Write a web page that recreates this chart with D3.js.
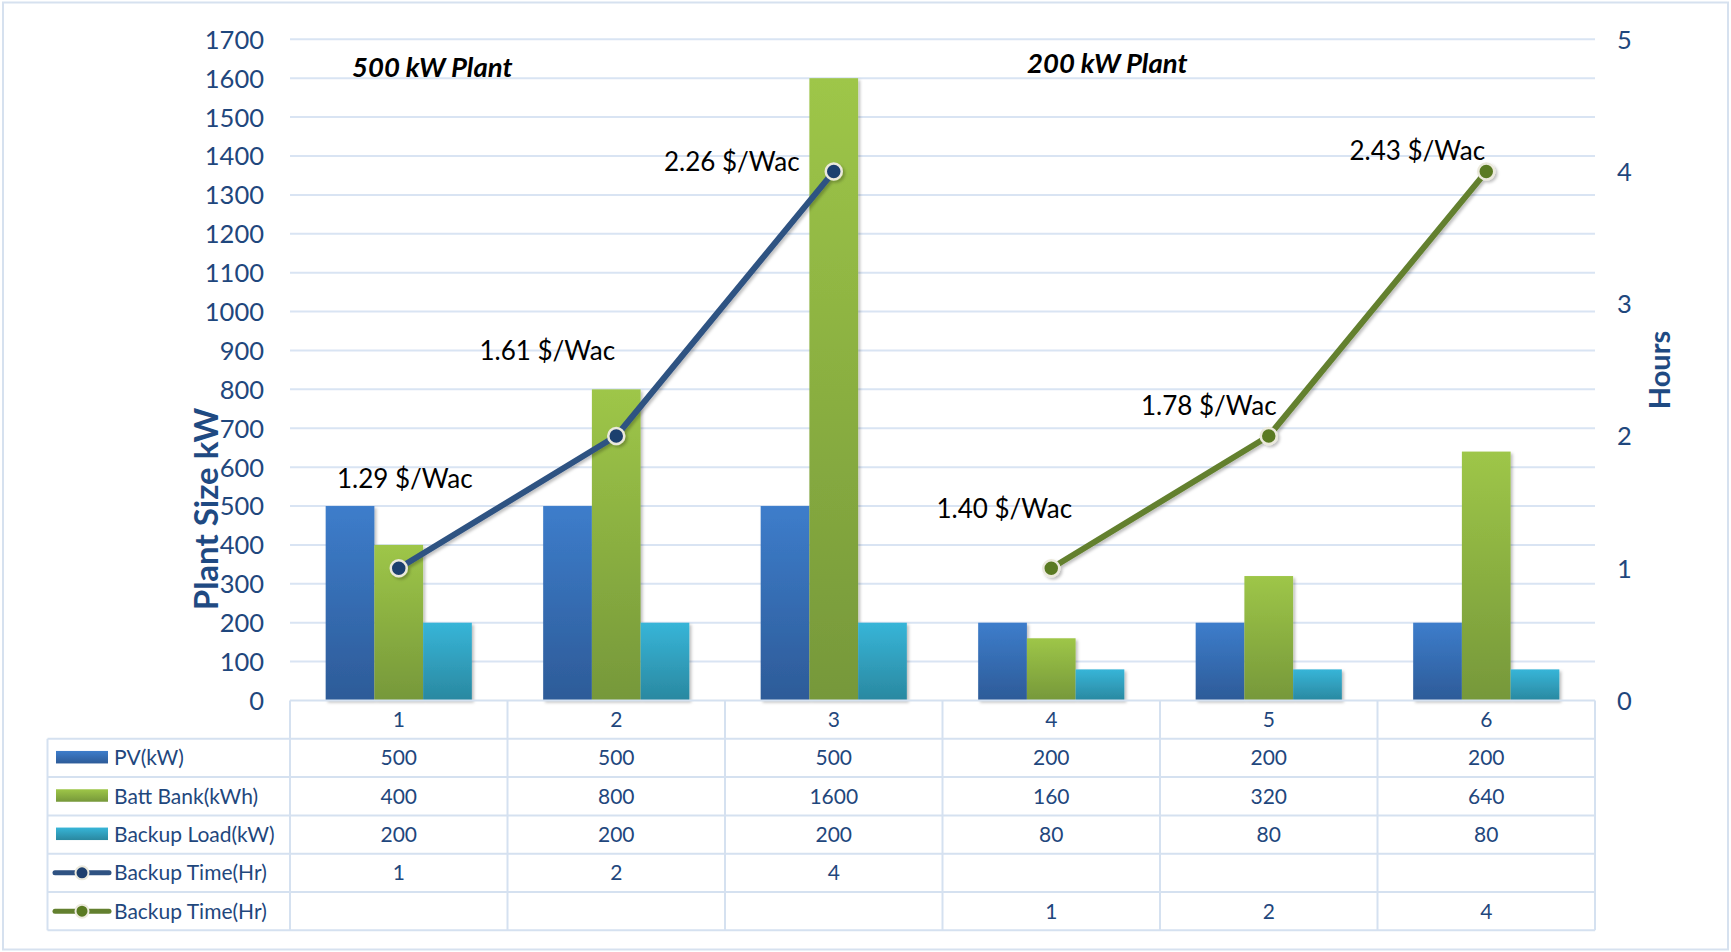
<!DOCTYPE html>
<html>
<head>
<meta charset="utf-8">
<script src="https://cdn.jsdelivr.net/npm/d3@7"></script>
<style>
  html, body { margin: 0; padding: 0; background: #fff; }
  svg { display: block; font-family: Lato, "Open Sans", sans-serif; }
</style>
</head>
<body>
<svg id="chart" width="1731" height="952"></svg>
<script>
// ---- data ----
const categories = ["1", "2", "3", "4", "5", "6"];
const pvKW = [500, 500, 500, 200, 200, 200];
const battKWh = [400, 800, 1600, 160, 320, 640];
const backupLoadKW = [200, 200, 200, 80, 80, 80];
const backupTime500 = [1, 2, 4, null, null, null];
const backupTime200 = [null, null, null, 1, 2, 4];
const costLabels = ["1.29 $/Wac", "1.61 $/Wac", "2.26 $/Wac", "1.40 $/Wac", "1.78 $/Wac", "2.43 $/Wac"];
const leftTicks = [0,100,200,300,400,500,600,700,800,900,1000,1100,1200,1300,1400,1500,1600,1700];
const rightTicks = [0,1,2,3,4,5];
const plantTitles = ["500 kW Plant", "200 kW Plant"];
const barSeriesNames = ["PV(kW)", "Batt Bank(kWh)", "Backup Load(kW)"];
const lineSeriesNames = ["Backup Time(Hr)", "Backup Time(Hr)"];

// ---- layout (styles / positions) ----
const plotL = 290, plotR = 1595, plotT = 39.3, plotB = 700.5;
const rowH = 38.3;
const tableL = 47.5;
const labelOffsets = [[6,-80],[-69,-76],[-102,-1],[-47,-50],[-60,-21],[-69,-12]];
const textBlue = "#1f477d";
const gridCol = "#d9e4f3";

const svg = d3.select("#chart");
const defs = svg.append("defs");

function vgrad(id, top, bottom) {
  const g = defs.append("linearGradient").attr("id", id).attr("x1",0).attr("y1",0).attr("x2",0).attr("y2",1);
  g.append("stop").attr("offset","0%").attr("stop-color", top);
  g.append("stop").attr("offset","100%").attr("stop-color", bottom);
}
vgrad("gPV", "#3d7dcb", "#2d5b98");
vgrad("gBatt", "#9ec648", "#76983a");
vgrad("gBack", "#37b5d8", "#2a88a0");
const barFills = ["url(#gPV)", "url(#gBatt)", "url(#gBack)"];

const sh = defs.append("filter").attr("id","shadow").attr("x","-20%").attr("y","-20%").attr("width","140%").attr("height","140%");
sh.append("feDropShadow").attr("dx",2).attr("dy",2).attr("stdDeviation",1.5).attr("flood-color","#000").attr("flood-opacity",0.25);

// outer border
svg.append("rect").attr("x",3).attr("y",2.5).attr("width",1725).attr("height",947)
  .attr("fill","#fff").attr("stroke","#d6e1ef").attr("stroke-width",2);

// scales
const x = d3.scaleBand().domain(categories).range([plotL, plotR]).paddingInner(0).paddingOuter(0);
const groupW = x.bandwidth() * 0.672;
const xs = d3.scaleBand().domain([0,1,2]).range([(x.bandwidth()-groupW)/2, (x.bandwidth()+groupW)/2]).padding(0);
const yL = d3.scaleLinear().domain([0, 1700]).range([plotB, plotT]);
const yR = d3.scaleLinear().domain([0, 5]).range([plotB, plotT]);

// gridlines
svg.append("g").selectAll("line").data(leftTicks.filter(d => d > 0)).join("line")
  .attr("x1", plotL).attr("x2", plotR).attr("y1", d => yL(d)).attr("y2", d => yL(d))
  .attr("stroke", gridCol).attr("stroke-width", 2);

// left axis
const axL = d3.axisLeft(yL).tickValues(leftTicks).tickSize(0).tickPadding(0).tickFormat(d3.format("d"));
const gL = svg.append("g").attr("transform", `translate(264,0)`).call(axL);
gL.select(".domain").remove();
gL.selectAll("text").attr("font-size", 25.5).attr("fill", textBlue).attr("font-family","Lato").attr("dy","0.35em");

// right axis
const axR = d3.axisRight(yR).tickValues(rightTicks).tickSize(0).tickPadding(0).tickFormat(d3.format("d"));
const gR = svg.append("g").attr("transform", `translate(1617,0)`).call(axR);
gR.select(".domain").remove();
gR.selectAll("text").attr("font-size", 25.5).attr("fill", textBlue).attr("font-family","Lato").attr("dy","0.35em");

// axis titles
svg.append("text").attr("transform", "translate(218,509) rotate(-90)")
  .attr("text-anchor","middle").attr("font-size",33).attr("font-weight",700).attr("fill","#1f4a82")
  .text("Plant Size kW");
svg.append("text").attr("transform", "translate(1670,370) rotate(-90)")
  .attr("text-anchor","middle").attr("font-size",29).attr("font-weight",700).attr("fill","#1f4a82")
  .text("Hours");

// bars
const barSeries = [pvKW, battKWh, backupLoadKW];
const gBars = svg.append("g").attr("filter","url(#shadow)");
barSeries.forEach((vals, si) => {
  gBars.append("g").selectAll("rect").data(vals).join("rect")
    .attr("x", (d,i) => x(categories[i]) + xs(si))
    .attr("width", xs.bandwidth())
    .attr("y", d => yL(d))
    .attr("height", d => yL(0) - yL(d))
    .attr("fill", barFills[si]);
});

// lines
const lineSeries = [
  {vals: backupTime500, stroke: "#2f5282", fill: "#1e3f6e"},
  {vals: backupTime200, stroke: "#63802f", fill: "#5a7a22"}
];
const lineGen = d3.line().defined(d => d.v != null)
  .x(d => x(d.c) + x.bandwidth()/2).y(d => yR(d.v));
lineSeries.forEach(s => {
  const pts = s.vals.map((v,i) => ({c: categories[i], v}));
  const g = svg.append("g").attr("filter","url(#shadow)");
  g.append("path").datum(pts).attr("d", lineGen).attr("fill","none")
    .attr("stroke", s.stroke).attr("stroke-width", 6).attr("stroke-linejoin","round").attr("stroke-linecap","round");
  g.selectAll("circle").data(pts.filter(d => d.v != null)).join("circle")
    .attr("cx", d => x(d.c) + x.bandwidth()/2).attr("cy", d => yR(d.v)).attr("r", 8)
    .attr("fill", s.fill).attr("stroke", "#ebe9dc").attr("stroke-width", 2.5);
});

// data labels
const allTimes = categories.map((c,i) => backupTime500[i] != null ? backupTime500[i] : backupTime200[i]);
svg.append("g").selectAll("text").data(costLabels).join("text")
  .attr("x", (d,i) => x(categories[i]) + x.bandwidth()/2 + labelOffsets[i][0])
  .attr("y", (d,i) => yR(allTimes[i]) + labelOffsets[i][1])
  .attr("text-anchor","middle").attr("font-size",26).attr("fill","#000")
  .text(d => d);

// plant titles
svg.append("text").attr("x", 352).attr("y", 77).attr("font-size", 27.5).attr("font-weight",700)
  .attr("font-style","italic").attr("fill","#000").text(plantTitles[0]);
svg.append("text").attr("x", 1027).attr("y", 73).attr("font-size", 27.5).attr("font-weight",700)
  .attr("font-style","italic").attr("fill","#000").text(plantTitles[1]);

// ---- data table ----
const tbl = svg.append("g");
const tableTop = plotB;
const lineStyle = sel => sel.attr("stroke", "#d5e1f0").attr("stroke-width", 2);
const hLines = d3.range(7).map(k => tableTop + k*rowH);
tbl.selectAll("line.h").data(hLines).join("line").attr("class","h")
  .attr("x1", (d,k) => k === 0 ? plotL : tableL).attr("x2", plotR)
  .attr("y1", d => d).attr("y2", d => d).call(lineStyle);
const vX = categories.map(c => x(c)).concat([plotR]);
tbl.selectAll("line.v").data(vX).join("line").attr("class","v")
  .attr("x1", d => d).attr("x2", d => d).attr("y1", tableTop).attr("y2", tableTop + 6*rowH).call(lineStyle);
tbl.append("line").attr("x1", tableL).attr("x2", tableL).attr("y1", tableTop + rowH).attr("y2", tableTop + 6*rowH).call(lineStyle);

tbl.selectAll("text.cat").data(categories).join("text").attr("class","cat")
  .attr("x", c => x(c) + x.bandwidth()/2).attr("y", tableTop + rowH/2).attr("dy","0.35em")
  .attr("text-anchor","middle").attr("font-size",21).attr("fill",textBlue).text(c => c);

const rows = [pvKW, battKWh, backupLoadKW, backupTime500, backupTime200];
const rowNames = barSeriesNames.concat(lineSeriesNames);
rows.forEach((vals, r) => {
  const cy = tableTop + rowH*(r+1) + rowH/2;
  tbl.append("g").selectAll("text").data(vals).join("text")
    .attr("x", (d,i) => x(categories[i]) + x.bandwidth()/2).attr("y", cy).attr("dy","0.35em")
    .attr("text-anchor","middle").attr("font-size",21).attr("fill",textBlue)
    .text(d => d == null ? "" : d);
  tbl.append("text").attr("x", 114).attr("y", cy).attr("dy","0.35em")
    .attr("font-size",21).attr("fill",textBlue).text(rowNames[r]);
  if (r < 3) {
    tbl.append("rect").attr("x", 56).attr("y", cy - 7).attr("width", 52).attr("height", 12.5)
      .attr("fill", barFills[r]);
  } else {
    const s = lineSeries[r-3];
    tbl.append("line").attr("x1", 55).attr("x2", 109).attr("y1", cy).attr("y2", cy)
      .attr("stroke", s.stroke).attr("stroke-width", 5).attr("stroke-linecap","round");
    tbl.append("circle").attr("cx", 82).attr("cy", cy).attr("r", 6.5)
      .attr("fill", s.fill).attr("stroke", "#ebe9dc").attr("stroke-width", 2);
  }
});
</script>
</body>
</html>
